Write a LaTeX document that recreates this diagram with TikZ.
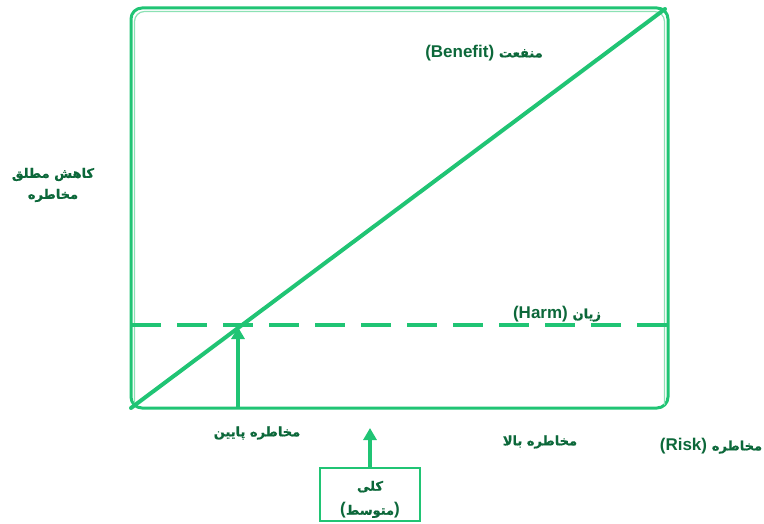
\documentclass[tikz,border=0pt]{standalone}
\usepackage{fontspec}
\setmainfont{Liberation Sans}
\newfontfamily\arabicfont[Script=Arabic, FakeBold=0.8]{DejaVu Sans}
\TeXXeTstate=1
\usetikzlibrary{arrows.meta}
\definecolor{lineG}{RGB}{32,196,116}
\definecolor{lineL}{RGB}{140,225,180}
\definecolor{textG}{RGB}{12,104,58}
\newcommand{\arw}[1]{{\arabicfont\fontsize{13}{16}\selectfont\beginR #1\endR}}
\tikzset{
  lbl/.style={text=textG, font=\bfseries\fontsize{17}{22}\selectfont, align=center, inner sep=1pt},
  frame/.style={draw=lineG, line width=3pt},
  frameL/.style={draw=lineL, line width=1.2pt},
  mainline/.style={draw=lineG, line width=4pt},
  dashline/.style={draw=lineG, line width=3.5pt, dash pattern=on 30pt off 16pt},
  uparrow/.style={draw=lineG, line width=3.5pt, -{Triangle[width=13pt,length=12pt]}},
  boxst/.style={draw=lineG, line width=2.5pt, minimum width=100pt, minimum height=53pt, align=center, text=textG, inner sep=1pt, font=\bfseries\fontsize{17}{22}\selectfont},
}
\begin{document}
\begin{tikzpicture}[x=1pt,y=-1pt]
\useasboundingbox (0,0) rectangle (764,524);
% frame
\coordinate (BL) at (131,408);
\coordinate (BR) at (668,408);
\coordinate (TR) at (665,9);
\draw[frame, rounded corners=11pt] (131,408) -- (131,8) -- (668,8) -- (668,408) -- cycle;
\draw[frameL, rounded corners=10pt] (134.5,405) -- (134.5,11.5) -- (664.5,11.5) -- (664.5,405);
% diagonal
\draw[mainline, line cap=round] (BL) -- (TR);
% dashed line
\coordinate (DL) at (131,325);
\coordinate (DR) at (668,325);
\draw[dashline] (DL) -- (DR);
% arrow low
\coordinate (A0) at (238,408);
\coordinate (A1) at (238,327);
\draw[uparrow] (A0) -- (A1);
% box
\node[boxst] (box) at (370,494.5) {\rule{0pt}{20pt}\arw{کلی}\\[2pt](\arw{متوسط})};
\coordinate (A2) at (370,428);
\draw[uparrow] (box.north) -- (A2);
% labels
\node[lbl] (ylab) at (53,185) {\arw{کاهش مطلق}\\[-1pt]\arw{مخاطره}};
\node[lbl] (ben) at (484,53) {(Benefit) \arw{منفعت}};
\node[lbl] (harm) at (557,314) {(Harm) \arw{زیان}};
\node[lbl] (low) at (257,433) {\arw{مخاطره پایین}};
\node[lbl] (high) at (540,442) {\arw{مخاطره بالا}};
\node[lbl] (risk) at (711,446) {(Risk) \arw{مخاطره}};
\end{tikzpicture}
\end{document}
